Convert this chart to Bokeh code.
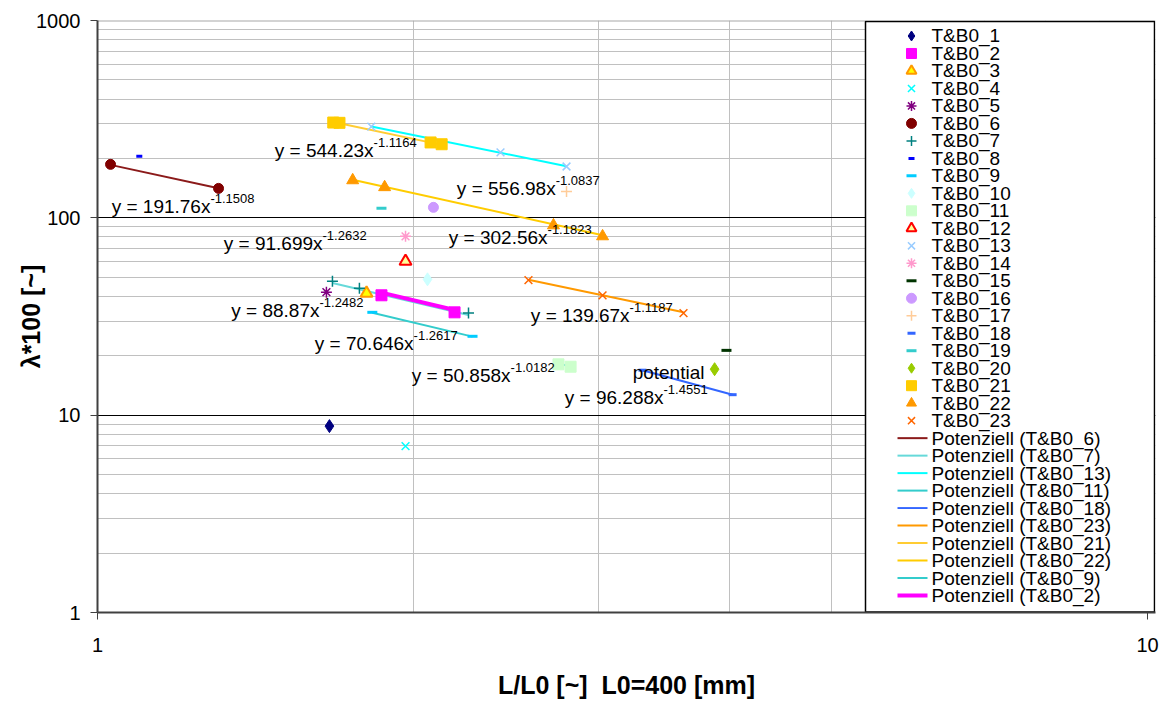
from bokeh.plotting import figure
from bokeh.models import Range1d, FixedTicker, Span, ColumnDataSource
from bokeh.core.properties import value
from bokeh.embed import file_html
from bokeh.resources import INLINE

# ---------------- data ----------------
series_names = ["T&B0_%d" % i for i in range(1, 24)]

tb1_x = [1.663];                       tb1_y = [8.8]
tb2_x = [1.864, 2.188];                tb2_y = [40.5, 33.2]
tb3_x = [1.804];                       tb3_y = [41.5]
tb4_x = [1.965];                       tb4_y = [6.97]
tb5_x = [1.652];                       tb5_y = [42.0]
tb6_x = [1.029, 1.304];                tb6_y = [186.6, 141.0]
tb7_x = [1.674, 1.776, 2.256];         tb7_y = [47.7, 44.0, 32.9]
tb8_x = [1.096];                       tb8_y = [205.0]
tb9_x = [1.827, 2.276];                tb9_y = [33.2, 25.1]
tb10_x = [2.062];                      tb10_y = [48.8]
tb11_x = [2.748, 2.822];               tb11_y = [18.1, 17.6]
tb12_x = [1.965];                      tb12_y = [60.2]
tb13_x = [1.823, 2.420, 2.797];        tb13_y = [290.0, 214.6, 182.0]
tb14_x = [1.965];                      tb14_y = [80.6]
tb15_x = [3.972];                      tb15_y = [21.3]
tb16_x = [2.089];                      tb16_y = [113.0]
tb17_x = [2.797];                      tb17_y = [136.0]
tb18_x = [3.304, 4.026];               tb18_y = [16.9, 12.7]
tb19_x = [1.864];                      tb19_y = [111.7]
tb20_x = [3.870];                      tb20_y = [17.1]
tb21_x = [1.677, 1.700, 2.076, 2.127]; tb21_y = [304.0, 303.0, 241.0, 236.0]
tb22_x = [1.750, 1.877, 2.718, 3.027]; tb22_y = [155.0, 143.0, 91.6, 80.6]
tb23_x = [2.573, 3.027, 3.615];        tb23_y = [48.3, 40.5, 32.9]

# power trend lines (end points) and their equations
trend_names = ["Potenziell (T&B0_6)", "Potenziell (T&B0_7)", "Potenziell (T&B0_13)",
               "Potenziell (T&B0_11)", "Potenziell (T&B0_18)", "Potenziell (T&B0_23)",
               "Potenziell (T&B0_21)", "Potenziell (T&B0_22)", "Potenziell (T&B0_9)",
               "Potenziell (T&B0_2)"]
tr6_x = [1.029, 1.304];  tr6_y = [185.5, 141.3]
tr7_x = [1.674, 2.256];  tr7_y = [46.7, 32.2]
tr13_x = [1.823, 2.797]; tr13_y = [290.5, 182.7]
tr11_x = [2.748, 2.822]; tr11_y = [18.2, 17.7]
tr18_x = [3.304, 4.026]; tr18_y = [16.9, 12.7]
tr23_x = [2.573, 3.615]; tr23_y = [48.5, 33.2]
tr21_x = [1.677, 2.127]; tr21_y = [305.6, 234.3]
tr22_x = [1.750, 3.027]; tr22_y = [156.1, 81.7]
tr9_x = [1.827, 2.276];  tr9_y = [33.0, 25.0]
tr2_x = [1.864, 2.188];  tr2_y = [41.8, 34.1]

eq_main = ["y = 191.76x", "y = 544.23x", "y = 556.98x", "y = 91.699x", "y = 302.56x",
           "y = 88.87x", "y = 70.646x", "y = 50.858x", "y = 139.67x", "y = 96.288x"]
eq_exp = ["-1.1508", "-1.1164", "-1.0837", "-1.2632", "-1.1823",
          "-1.2482", "-1.2617", "-1.0182", "-1.1187", "-1.4551"]
eq_x = [1.281, 1.832, 2.731, 1.638, 2.683, 1.627, 2.000, 2.474, 3.212, 3.460]
eq_y = [114.3, 219.7, 141.0, 74.3, 79.6, 34.0, 23.2, 15.8, 32.1, 12.3]

note_text = ["potential"]
note_x = [3.785]
note_y = [16.5]

y_ticks = [1, 10, 100, 1000]
x_ticks = [1, 10]

# ---------------- layout helpers (pixel -> data for the hand-drawn legend) ----------------
X0_PX, PX_PER_DECADE_X = 97, 1050
Y10_PX, PX_PER_DECADE_Y = 415, 197.5


def sx(px):
    return 10 ** ((px - X0_PX) / PX_PER_DECADE_X)


def sy(py):
    return 10 ** (1 + (Y10_PX - py) / PX_PER_DECADE_Y)


# ---------------- figure ----------------
FONT = "Liberation Sans"
p = figure(width=1164, height=709, x_axis_type="log", y_axis_type="log",
           x_range=Range1d(1, sx(1155)), y_range=Range1d(1, 1000),
           output_backend="svg", toolbar_location=None,
           min_border_left=97, min_border_right=9, min_border_top=20, min_border_bottom=97)
p.outline_line_color = None
p.background_fill_color = "white"
p.border_fill_color = "white"

minor_x = [2, 3, 4, 5, 6, 7, 8, 9]
minor_y = [2, 3, 4, 5, 6, 7, 8, 9, 20, 30, 40, 50, 60, 70, 80, 90,
           200, 300, 400, 500, 600, 700, 800, 900]
p.xgrid[0].ticker = FixedTicker(ticks=x_ticks, minor_ticks=minor_x)
p.xgrid[0].grid_line_color = None
p.xgrid[0].minor_grid_line_color = "#C0C0C0"
p.ygrid[0].ticker = FixedTicker(ticks=[10, 100], minor_ticks=minor_y)
p.ygrid[0].grid_line_color = "#000000"
p.ygrid[0].minor_grid_line_color = "#C0C0C0"
p.add_layout(Span(location=1000, dimension="width", line_color="#A8A8A8", line_width=2,
                  level="underlay"))

for ax, ticks in ((p.xaxis[0], x_ticks), (p.yaxis[0], y_ticks)):
    ax.ticker = FixedTicker(ticks=ticks)
    ax.major_label_overrides = {t: str(t) for t in ticks}
    ax.axis_line_color = "#404040"
    ax.axis_line_width = 2
    ax.major_tick_line_color = "#404040"
    ax.major_tick_in = 0
    ax.major_tick_out = 7
    ax.minor_tick_line_color = None
    ax.major_label_text_font = FONT
    ax.major_label_text_font_size = "20px"
    ax.major_label_text_color = "black"
    ax.axis_label_text_font = FONT
    ax.axis_label_text_font_style = "bold"
    ax.axis_label_text_font_size = "25px"
    ax.axis_label_text_color = "black"

p.xaxis.axis_label = "L/L0 [~]\u00a0 L0=400 [mm]"
p.yaxis.axis_label = "λ*100 [~]"
p.xaxis.major_label_standoff = 18
p.xaxis.axis_label_standoff = 16
p.yaxis.major_label_standoff = 10
p.yaxis.axis_label_standoff = -12

# ---------------- trend lines ----------------
trend_data = [(tr6_x, tr6_y), (tr7_x, tr7_y), (tr13_x, tr13_y), (tr11_x, tr11_y),
              (tr18_x, tr18_y), (tr23_x, tr23_y), (tr21_x, tr21_y), (tr22_x, tr22_y),
              (tr9_x, tr9_y), (tr2_x, tr2_y)]
trend_colors = ["#8B1A1A", "#66D9D9", "#00FFFF", "#33CCCC", "#3366FF",
                "#FF9900", "#FFCC33", "#FFCC00", "#33CCCC", "#FF00FF"]
trend_widths = [2, 2, 2, 2, 2, 2, 2, 2, 2, 4]
for (tx, ty), c, w in zip(trend_data, trend_colors, trend_widths):
    p.line(tx, ty, line_color=c, line_width=w)

# ---------------- series markers ----------------
series_data = [(tb1_x, tb1_y), (tb2_x, tb2_y), (tb3_x, tb3_y), (tb4_x, tb4_y), (tb5_x, tb5_y),
               (tb6_x, tb6_y), (tb7_x, tb7_y), (tb8_x, tb8_y), (tb9_x, tb9_y), (tb10_x, tb10_y),
               (tb11_x, tb11_y), (tb12_x, tb12_y), (tb13_x, tb13_y), (tb14_x, tb14_y),
               (tb15_x, tb15_y), (tb16_x, tb16_y), (tb17_x, tb17_y), (tb18_x, tb18_y),
               (tb19_x, tb19_y), (tb20_x, tb20_y), (tb21_x, tb21_y), (tb22_x, tb22_y),
               (tb23_x, tb23_y)]
# (marker, fill, line, size, line width)
series_styles = [
    ("diamond", "#000080", "#000080", 13, 1),
    ("square", "#FF00FF", "#FF00FF", 11, 1),
    ("triangle", "#FFFF00", "#FF9900", 12, 2),
    ("x", None, "#00FFFF", 11, 1.5),
    ("asterisk", None, "#800080", 11, 1.5),
    ("circle", "#800000", "#800000", 10, 1),
    ("cross", None, "#008080", 11, 1.5),
    ("dash", None, "#0000FF", 6, 3),
    ("dash", None, "#00CCFF", 10, 3),
    ("diamond", "#CCFFFF", "#CCFFFF", 13, 1),
    ("square", "#CCFFCC", "#CCFFCC", 11, 1),
    ("triangle", "#FFFF99", "#FF0000", 12, 2),
    ("x", None, "#99CCFF", 11, 1.5),
    ("asterisk", None, "#FF99CC", 11, 1.5),
    ("dash", None, "#003300", 10, 3),
    ("circle", "#CC99FF", "#CC99FF", 10, 1),
    ("cross", None, "#FFCC99", 11, 1.5),
    ("dash", None, "#3366FF", 8, 3),
    ("dash", None, "#33CCCC", 10, 3),
    ("diamond", "#99CC00", "#99CC00", 13, 1),
    ("square", "#FFCC00", "#FFCC00", 11, 1),
    ("triangle", "#FF9900", "#FF9900", 12, 1),
    ("x", None, "#FF6600", 11, 1.5),
]
for (dx, dy), (mk, fc, lc, sz, lw) in zip(series_data, series_styles):
    p.scatter(dx, dy, marker=mk, size=sz, fill_color=fc, line_color=lc, line_width=lw)

# ---------------- equation labels ----------------
eq_src = ColumnDataSource(dict(x=eq_x, y=eq_y, main=eq_main, exp=eq_exp))
p.text(x="x", y="y", text="main", source=eq_src, text_align="right", text_baseline="middle",
       text_font=value(FONT), text_font_size="19px", text_color="black")
p.text(x="x", y="y", text="exp", source=eq_src, text_align="left", text_baseline="middle",
       text_font=value(FONT), text_font_size="13px", text_color="black", y_offset=-8)
p.text(x=note_x, y=note_y, text=note_text, text_align="right", text_baseline="middle",
       text_font=value(FONT), text_font_size="19px", text_color="black")

# ---------------- legend (drawn by hand so that 33 rows fit like the original) ----------------
p.quad(left=[sx(865)], right=[sx(1154)], top=[sy(21)], bottom=[sy(612)],
       fill_color="white", line_color="black", line_width=1.5)
ROW0, ROW_H = 35.5, 17.5
labels = series_names + trend_names
row_y = [sy(ROW0 + ROW_H * i) for i in range(len(labels))]
for i, (mk, fc, lc, sz, lw) in enumerate(series_styles):
    p.scatter([sx(911)], [row_y[i]], marker=mk, size=min(sz, 10), fill_color=fc,
              line_color=lc, line_width=lw)
for j, (c, w) in enumerate(zip(trend_colors, trend_widths)):
    yy = row_y[len(series_names) + j]
    p.line([sx(897), sx(927)], [yy, yy], line_color=c, line_width=w)
p.text(x=[sx(931)] * len(labels), y=row_y, text=labels, text_align="left",
       text_baseline="middle", text_font=value(FONT), text_font_size="19px",
       text_color="black")

open("out.html", "w").write(file_html(p, INLINE))
